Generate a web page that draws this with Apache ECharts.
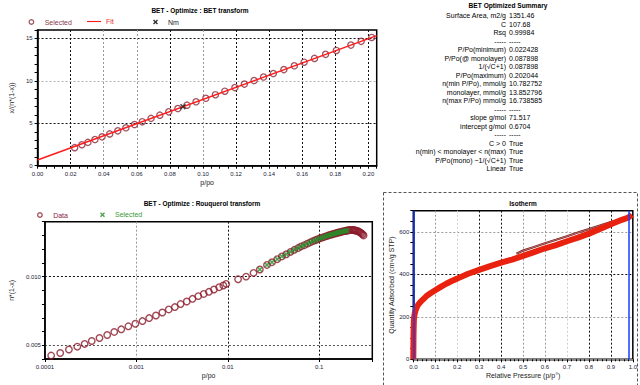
<!DOCTYPE html>
<html><head><meta charset="utf-8">
<script src="https://cdn.jsdelivr.net/npm/echarts@6/dist/echarts.min.js"></script>
<style>html,body{margin:0;padding:0;background:#fff}#c{width:640px;height:385px}</style>
</head><body><div id="c"></div>
<script>
// ---------- BET transform (top-left) ----------
const betX = [0.0224,0.0268,0.0304,0.0347,0.0390,0.0436,0.0485,0.0534,0.0586,0.0633,0.0686,0.0739,0.0793,0.0848,0.0903,0.0958,0.1017,0.1075,0.1132,0.1193,0.1250,0.1309,0.1366,0.1425,0.1489,0.1552,0.1611,0.1674,0.1741,0.1806,0.1894,0.1956,0.2020];
const betY = [2.13,2.47,2.75,3.08,3.40,3.75,4.11,4.47,4.85,5.19,5.58,5.96,6.35,6.74,7.14,7.53,7.95,8.37,8.78,9.21,9.62,10.04,10.45,10.87,11.33,11.78,12.20,12.65,13.13,13.59,14.22,14.66,15.12];
const fitX = [0, 0.205];
const fitY = [0.6704, 15.331];
const nmX = [0.0879];
const nmY = [6.96];
const betXTickLabels = ['0.00','0.02','0.04','0.06','0.08','0.10','0.12','0.14','0.16','0.18','0.20'];
const betYTickLabels = ['0','5','10','15'];

// ---------- Rouquerol transform (bottom-left) ----------
const rqLowX = [0.000117,0.000147,0.000183,0.000226,0.000272,0.000325,0.000395,0.00048,0.000573,0.000684,0.000817,0.000975,0.001166,0.00138,0.001637,0.001923,0.00226,0.002636,0.003048,0.003555,0.00411,0.00475,0.00545,0.00621,0.00706,0.00804,0.00893,0.0096,0.01295,0.01584,0.0191];
const rqLowY = [0.00425,0.00444,0.00469,0.0049,0.0051,0.00531,0.00553,0.00575,0.00597,0.00616,0.00638,0.00657,0.00676,0.00698,0.00717,0.00739,0.00761,0.00778,0.008,0.00819,0.00838,0.00858,0.00874,0.00889,0.00906,0.00923,0.00935,0.00947,0.00981,0.0100,0.01027];
const rqSelY = [0.01052,0.01085,0.01105,0.01127,0.01147,0.01163,0.0118,0.01195,0.01208,0.0122,0.01229,0.0124,0.01249,0.01258,0.01265,0.01272,0.01279,0.01284,0.01289,0.01295,0.01299,0.01304,0.01307,0.01311,0.01314,0.01318,0.01321,0.01323,0.01326,0.01329,0.01332,0.01334,0.01336];
const rqHighX = [0.208,0.215,0.222,0.229,0.236,0.243,0.25,0.258,0.266,0.274,0.282,0.29,0.298,0.305];
const rqHighY = [0.01338,0.01339,0.0134,0.0134,0.01339,0.01338,0.01336,0.01333,0.0133,0.01326,0.01321,0.01315,0.01308,0.0130];
const rqXTickLabels = ['0.0001','0.001','0.01','0.1'];
const rqYTickLabels = ['0.005','0.010'];

// ---------- Isotherm (bottom-right) ----------
const isoAdsX = [0,0.0005,0.001,0.002,0.003,0.005,0.008,0.012,0.02,0.03,0.04,0.06,0.08,0.1,0.125,0.15,0.175,0.2,0.25,0.3,0.35,0.4,0.45,0.5,0.55,0.6,0.65,0.7,0.75,0.8,0.85,0.9,0.95,0.98,0.995];
const isoAdsY = [0,60,120,165,190,207,222,235,254,267,278,298,312,325,341,356,369,380,403,421,439,455,470,487,505,523,538,556,573,592,614,636,657,668,681];
const isoDesX = [0.47,0.5,0.55,0.6,0.65,0.7,0.75,0.8,0.85,0.9,0.95,0.98,0.995];
const isoDesY = [497,512,529,547,563,580,597,613,630,646,661,671,681];
const isoMarkers = [0.0, 0.977];
const isoXTickLabels = ['0.0','0.1','0.2','0.3','0.4','0.5','0.6','0.7','0.8','0.9','1.0'];
const isoYTickLabels = ['0','200','400','600'];

// ---------- Summary ----------
const summaryTitle = 'BET Optimized Summary';
const summaryLabels = ['Surface Area, m2/g','C','Rsq','-----','P/Po(minimum)','P/Po(@ monolayer)','1/(\u221AC+1)','P/Po(maximum)','n(min P/Po), mmol/g','monolayer, mmol/g','n(max P/Po) mmol/g','-----','slope g/mol','intercept g/mol','-----','C > 0','n(min) < monolayer < n(max)','P/Po(mono) ~1/(\u221AC+1)','Linear'];
const summaryValues = ['1351.46','107.68','0.99984','-----','0.022428','0.087898','0.087898','0.202044','10.782752','13.852796','16.738585','-----','71.517','0.6704','-----','True','True','True','True'];

const FONT = 'Liberation Sans, Arial, sans-serif';
const pts = (xs, ys) => xs.map((x, i) => [x, ys[i]]);
const near = (v, t, eps) => Math.abs(v - t) < eps;
const XPATH = 'path://M0,2L2,0L5,3L8,0L10,2L7,5L10,8L8,10L5,7L2,10L0,8L3,5Z';
const BLK = '#111', GRY = '#9a9a9a', LGT = '#cfcfcf', T = 'rgba(0,0,0,0)';
const HOLLOW = 'rgba(255,255,255,0)';

function splitColors(count, step, majors) {
  const arr = [];
  for (let i = 0; i < count; i++) arr.push(i % step === 0 && majors[i / step] ? majors[i / step] : T);
  return arr;
}
const lblStyle = { fontSize: 6, color: '#1c1c3a', fontFamily: FONT };
const nameStyle = { fontSize: 7, color: '#222', fontFamily: FONT };
const tickStyle = { show: true, length: 3, lineStyle: { color: '#000', width: 1 } };
const axLine = { show: true, lineStyle: { color: '#000', width: 1.5 } };
const dotted = [2, 2];

const chart = echarts.init(document.getElementById('c'), null, { renderer: 'svg', width: 640, height: 385 });

const graphic = [
  { type: 'text', x: 200, y: 10, style: { text: 'BET - Optimize : BET transform', fontSize: 6.5, fontWeight: 'bold', fontFamily: FONT, fill: '#000', align: 'center', verticalAlign: 'middle' } },
  { type: 'text', x: 202, y: 203, style: { text: 'BET - Optimize : Rouquerol transform', fontSize: 6.5, fontWeight: 'bold', fontFamily: FONT, fill: '#000', align: 'center', verticalAlign: 'middle' } },
  { type: 'text', x: 523, y: 203, style: { text: 'Isotherm', fontSize: 6.5, fontWeight: 'bold', fontFamily: FONT, fill: '#000', align: 'center', verticalAlign: 'middle' } },
  { type: 'text', x: 508, y: 5.5, style: { text: summaryTitle, fontSize: 6.6, fontWeight: 'bold', fontFamily: FONT, fill: '#000', align: 'center', verticalAlign: 'middle' } },
  { type: 'rect', shape: { x: 383.5, y: 192.5, width: 254, height: 200 }, style: { fill: 'none', stroke: '#555', lineWidth: 1, lineDash: [3, 2] } }
];
summaryLabels.forEach((t, i) => {
  const y = 15.5 + i * 8.5;
  graphic.push({ type: 'text', x: 506, y: y, style: { text: t, fontSize: 7, fontFamily: FONT, fill: '#000', align: 'right', verticalAlign: 'middle' } });
  graphic.push({ type: 'text', x: 509, y: y, style: { text: summaryValues[i], fontSize: 7, fontFamily: FONT, fill: '#000', align: 'left', verticalAlign: 'middle' } });
});

const legendBase = { selectedMode: false, padding: 0, itemGap: 0, orient: 'horizontal' };

const option = {
  animation: false,
  backgroundColor: '#fff',
  textStyle: { fontFamily: FONT },
  graphic: graphic,
  legend: [
    Object.assign({}, legendBase, { left: 28.5, top: 18.5, itemWidth: 4.5, itemHeight: 4.5,
      data: [{ name: 'Selected', icon: 'circle', itemStyle: { color: HOLLOW, borderColor: '#8b2a3a', borderWidth: 1.3 }, textStyle: { color: '#8b3a4a', fontSize: 7, padding: [0, 0, 0, 6] } }] }),
    Object.assign({}, legendBase, { left: 87, top: 18, itemWidth: 14, itemHeight: 6,
      data: [{ name: 'Fit', icon: 'path://M0,0H20V1.6H0Z', itemStyle: { color: '#ff1a1a', borderWidth: 0 }, textStyle: { color: '#e83030', fontSize: 7 } }] }),
    Object.assign({}, legendBase, { left: 153, top: 18.5, itemWidth: 5, itemHeight: 5,
      data: [{ name: 'Nm', icon: XPATH, itemStyle: { color: '#000', borderWidth: 0 }, textStyle: { color: '#222', fontSize: 7, padding: [0, 0, 0, 5] } }] }),
    Object.assign({}, legendBase, { left: 37, top: 211.5, itemWidth: 4.5, itemHeight: 4.5,
      data: [{ name: 'Data', icon: 'circle', itemStyle: { color: HOLLOW, borderColor: '#8b1a2a', borderWidth: 1.3 }, textStyle: { color: '#8b2040', fontSize: 7, padding: [0, 0, 0, 6] } }] }),
    Object.assign({}, legendBase, { left: 100, top: 211.3, itemWidth: 5, itemHeight: 5,
      data: [{ name: 'Selected', icon: XPATH, itemStyle: { color: '#2a8a2a', borderWidth: 0 }, textStyle: { color: '#3a9a3a', fontSize: 7, padding: [0, 0, 0, 5] } }] })
  ],
  grid: [
    { left: 24, top: 30, width: 352.7, height: 135.7, show: true, borderColor: '#000', borderWidth: 1.5, backgroundColor: 'transparent' },
    { left: 31.7, top: 221.7, width: 340.6, height: 137.3, show: true, borderColor: '#000', borderWidth: 1.5, backgroundColor: 'transparent' },
    { left: 413.3, top: 210.7, width: 220.7, height: 148.6, show: true, borderColor: '#000', borderWidth: 1.5, backgroundColor: 'transparent' }
  ],
  xAxis: [
    { type: 'value', gridIndex: 0, min: 0, max: 0.205, interval: 0.005,
      name: 'p/po', nameLocation: 'middle', nameGap: 13, nameTextStyle: nameStyle,
      axisLine: axLine, axisTick: tickStyle,
      axisLabel: Object.assign({ margin: 5, formatter: v => { const k = Math.round(v / 0.02); return near(v, k * 0.02, 1e-6) && betXTickLabels[k] ? betXTickLabels[k] : ''; } }, lblStyle),
      splitLine: { show: true, lineStyle: { type: dotted, width: 1, color: splitColors(42, 4, [T, BLK, GRY, GRY, BLK, GRY, BLK, BLK, BLK, BLK, BLK]) } } },
    { type: 'log', gridIndex: 1, min: 0.0001, max: 0.38, logBase: 10,
      name: 'p/po', nameLocation: 'middle', nameGap: 13, nameTextStyle: nameStyle,
      axisLine: axLine, axisTick: tickStyle,
      axisLabel: Object.assign({ margin: 5, formatter: v => { const l = Math.log10(v); const k = Math.round(l) + 4; return near(l, Math.round(l), 1e-6) && rqXTickLabels[k] ? rqXTickLabels[k] : ''; } }, lblStyle),
      splitLine: { show: true, lineStyle: { type: dotted, width: 1, color: [T, GRY, BLK, BLK, T] } } },
    { type: 'value', gridIndex: 2, min: 0, max: 1, interval: 0.1,
      name: 'Relative Pressure (p/p\u00B0)', nameLocation: 'middle', nameGap: 13, nameTextStyle: nameStyle,
      axisLine: { show: true, lineStyle: { color: '#8a8a8a', width: 2 } }, axisTick: tickStyle,
      minorTick: { show: true, splitNumber: 5, length: 2, lineStyle: { color: '#000' } },
      axisLabel: Object.assign({ margin: 5, formatter: v => { const k = Math.round(v * 10); return isoXTickLabels[k] || ''; } }, lblStyle),
      splitLine: { show: true, lineStyle: { type: dotted, width: 1, color: [T, GRY, LGT, BLK, BLK, GRY, GRY, LGT, BLK, BLK, T] } } }
  ],
  yAxis: [
    { type: 'value', gridIndex: 0, min: 0, max: 16, interval: 1,
      name: 'x/(n*(1-x))', nameLocation: 'middle', nameGap: 12, nameTextStyle: nameStyle,
      axisLine: axLine, axisTick: tickStyle,
      axisLabel: Object.assign({ margin: 5, formatter: v => (v % 5 === 0 && betYTickLabels[v / 5]) ? betYTickLabels[v / 5] : '' }, lblStyle),
      splitLine: { show: true, lineStyle: { type: dotted, width: 1, color: splitColors(17, 5, [T, BLK, '#b5b5b5', BLK]) } } },
    { type: 'value', gridIndex: 1, min: 0.004, max: 0.014, interval: 0.001,
      name: 'n*(1-x)', nameLocation: 'middle', nameGap: 21, nameTextStyle: nameStyle,
      axisLine: axLine, axisTick: tickStyle,
      axisLabel: Object.assign({ margin: 4, formatter: v => near(v, 0.005, 1e-7) ? rqYTickLabels[0] : (near(v, 0.010, 1e-7) ? rqYTickLabels[1] : '') }, lblStyle),
      splitLine: { show: true, lineStyle: { type: dotted, width: 1, color: [T, '#555', T, T, T, T, BLK, T, T, T, T] } } },
    { type: 'value', gridIndex: 2, min: 0, max: 700, interval: 50,
      name: 'Quantity Adsorbed (cm\u00B3/g STP)', nameLocation: 'middle', nameGap: 17, nameTextStyle: nameStyle,
      axisLine: axLine, axisTick: tickStyle,
      axisLabel: Object.assign({ margin: 4, formatter: v => (v % 200 === 0 && isoYTickLabels[v / 200]) ? isoYTickLabels[v / 200] : '' }, lblStyle),
      splitLine: { show: true, lineStyle: { type: dotted, width: 1, color: splitColors(15, 4, [T, GRY, BLK, GRY]) } } }
  ],
  series: [
    { name: 'Selected', type: 'scatter', xAxisIndex: 0, yAxisIndex: 0, data: pts(betX, betY),
      symbol: 'circle', symbolSize: 6.2, itemStyle: { color: HOLLOW, borderColor: '#8b2a3a', borderWidth: 1.3 } },
    { name: 'Fit', type: 'line', xAxisIndex: 0, yAxisIndex: 0, data: pts(fitX, fitY), symbol: 'none',
      lineStyle: { color: '#ff1a1a', width: 1.4 }, itemStyle: { color: '#ff1a1a' }, z: 3 },
    { name: 'Nm', type: 'scatter', xAxisIndex: 0, yAxisIndex: 0, data: pts(nmX, nmY),
      symbol: XPATH, symbolSize: 6, itemStyle: { color: '#222' }, z: 4 },
    { name: 'Data', type: 'scatter', xAxisIndex: 1, yAxisIndex: 1,
      data: pts(rqLowX.concat(betX, rqHighX), rqLowY.concat(rqSelY, rqHighY)),
      symbol: 'circle', symbolSize: 6.5, itemStyle: { color: HOLLOW, borderColor: '#8b1a2a', borderWidth: 1.4 } },
    { name: 'Selected', type: 'scatter', xAxisIndex: 1, yAxisIndex: 1, data: pts(betX, rqSelY),
      symbol: XPATH, symbolSize: 5.5, itemStyle: { color: '#2a8a2a' }, z: 4 },
    { name: 'Adsorption', type: 'line', xAxisIndex: 2, yAxisIndex: 2, data: pts(isoAdsX, isoAdsY), symbol: 'none',
      lineStyle: { color: '#e8220e', width: 6 }, z: 3,
      markLine: { silent: true, symbol: 'none', label: { show: false }, lineStyle: { color: '#1a3cff', width: 1.5, type: 'solid' },
        data: isoMarkers.map(v => ({ xAxis: v })) } },
    { name: 'Desorption', type: 'line', xAxisIndex: 2, yAxisIndex: 2, data: pts(isoDesX, isoDesY), symbol: 'none',
      lineStyle: { color: '#7a1c1c', width: 2.2 }, z: 2 },
    { name: 'Desorption core', type: 'line', xAxisIndex: 2, yAxisIndex: 2, data: pts(isoDesX, isoDesY), symbol: 'none',
      lineStyle: { color: '#d9a8a0', width: 0.6 }, z: 2 }
  ]
};
chart.setOption(option);
</script>
</body></html>
